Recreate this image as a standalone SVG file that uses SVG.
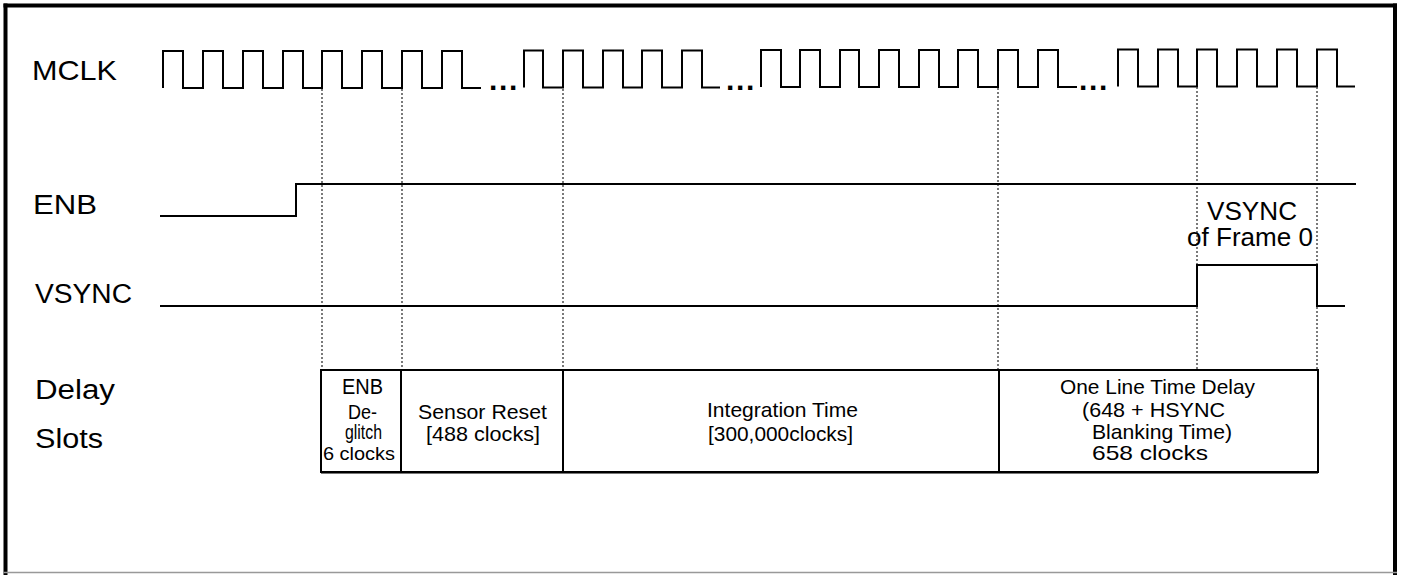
<svg xmlns="http://www.w3.org/2000/svg" width="1402" height="575" viewBox="0 0 1402 575">
<style>
.sig{fill:none;stroke:#000;stroke-width:2;stroke-linejoin:miter}
.lbl{font-family:"Liberation Sans",Arial,sans-serif;fill:#000}
.big{font-size:27px}
.sm{font-size:21px}
.dots{font-family:"Liberation Sans",Arial,sans-serif;font-size:30px;font-weight:bold;letter-spacing:1.7px;fill:#000}
.guide{stroke:#333;stroke-width:1.3;stroke-dasharray:2 2;fill:none}
.box{fill:none;stroke:#000;stroke-width:2}
</style>
<rect x="0" y="0" width="1402" height="575" fill="#fff"/>
<g id="frame">
<line x1="5.5" y1="3.5" x2="5.5" y2="575" stroke="#000" stroke-width="4"/>
<line x1="3.5" y1="5.5" x2="1397" y2="5.5" stroke="#000" stroke-width="4"/>
<line x1="1395" y1="3.5" x2="1395" y2="575" stroke="#000" stroke-width="4"/>
<line x1="3.5" y1="572.5" x2="1397" y2="572.5" stroke="#999" stroke-width="1.5"/>
</g>
<g id="labels">
<text class="lbl" x="32" y="80" font-size="28" textLength="85" lengthAdjust="spacingAndGlyphs">MCLK</text>
<text class="lbl big" x="33" y="214" textLength="64" lengthAdjust="spacingAndGlyphs">ENB</text>
<text class="lbl big" x="35" y="303" textLength="97" lengthAdjust="spacingAndGlyphs">VSYNC</text>
<text class="lbl big" x="35" y="399" textLength="80" lengthAdjust="spacingAndGlyphs">Delay</text>
<text class="lbl big" x="35" y="448" textLength="68" lengthAdjust="spacingAndGlyphs">Slots</text>
</g>
<g id="mclk">
<path class="sig" d="M163,88 V51 H183 V88 H203 V51 H223 V88 H243 V51 H263 V88 H283 V51 H303 V88 H322 V51 H342 V88 H362 V51 H382 V88 H402 V51 H422 V88 H442 V51 H462 V88 H481"/>
<path class="sig" d="M524,87.5 V50.5 H543 V87.5 H563 V50.5 H583 V87.5 H603 V50.5 H623 V87.5 H642 V50.5 H662 V87.5 H682 V50.5 H702 V87.5 H720"/>
<path class="sig" d="M761,87 V50 H781 V87 H800 V50 H820 V87 H840 V50 H859 V87 H879 V50 H899 V87 H919 V50 H939 V87 H958 V50 H978 V87 H998 V50 H1018 V87 H1038 V50 H1058 V87 H1077"/>
<path class="sig" d="M1118,86.5 V49.5 H1138 V86.5 H1158 V49.5 H1178 V86.5 H1197 V49.5 H1217 V86.5 H1237 V49.5 H1257 V86.5 H1277 V49.5 H1297 V86.5 H1317 V49.5 H1337 V86.5 H1355"/>
<text class="dots" x="489" y="90">...</text>
<text class="dots" x="726" y="90">...</text>
<text class="dots" x="1079" y="90">...</text>
</g>
<g id="connectors">
<line class="guide" x1="322" y1="89" x2="322" y2="370"/>
<line class="guide" x1="402" y1="89" x2="402" y2="370"/>
<line class="guide" x1="563" y1="89" x2="563" y2="370"/>
<line class="guide" x1="998" y1="88" x2="998" y2="370"/>
<line class="guide" x1="1197" y1="87" x2="1197" y2="370"/>
<line class="guide" x1="1317" y1="87" x2="1317" y2="370"/>
</g>
<g id="enb">
<path class="sig" d="M160,216 H296 V184 H1356"/>
</g>
<g id="vsync">
<path class="sig" d="M160,306 H1197 V265 H1317 V306 H1345"/>
<text class="lbl" x="1207" y="220" font-size="25" textLength="90" lengthAdjust="spacingAndGlyphs">VSYNC</text>
<text class="lbl" x="1187" y="246" font-size="25" textLength="126" lengthAdjust="spacingAndGlyphs">of Frame 0</text>
</g>
<g id="slot-deglitch">
<rect class="box" x="321" y="370" width="80" height="102"/>
<text class="lbl" x="342" y="394" font-size="22" textLength="41" lengthAdjust="spacingAndGlyphs">ENB</text>
<text class="lbl" x="348" y="419" font-size="19.5" textLength="29" lengthAdjust="spacingAndGlyphs">De-</text>
<text class="lbl" x="345" y="439" font-size="20" textLength="37" lengthAdjust="spacingAndGlyphs">glitch</text>
<text class="lbl" x="323" y="460" font-size="19" textLength="72" lengthAdjust="spacingAndGlyphs">6 clocks</text>
</g>
<g id="slot-reset">
<rect class="box" x="401" y="370" width="162" height="102"/>
<text class="lbl sm" x="418" y="419" textLength="129" lengthAdjust="spacingAndGlyphs">Sensor Reset</text>
<text class="lbl sm" x="426" y="441" textLength="114" lengthAdjust="spacingAndGlyphs">[488 clocks]</text>
</g>
<g id="slot-integration">
<rect class="box" x="563" y="370" width="436" height="102"/>
<text class="lbl sm" x="707" y="417" textLength="151" lengthAdjust="spacingAndGlyphs">Integration Time</text>
<text class="lbl sm" x="708" y="441" textLength="145" lengthAdjust="spacingAndGlyphs">[300,000clocks]</text>
</g>
<g id="slot-linedelay">
<rect class="box" x="999" y="370" width="319" height="102"/>
<text class="lbl sm" x="1060" y="394" textLength="195" lengthAdjust="spacingAndGlyphs">One Line Time Delay</text>
<text class="lbl sm" x="1082" y="417" textLength="143" lengthAdjust="spacingAndGlyphs">(648 + HSYNC</text>
<text class="lbl sm" x="1092" y="439" textLength="140" lengthAdjust="spacingAndGlyphs">Blanking Time)</text>
<text class="lbl sm" x="1092" y="460" textLength="116" lengthAdjust="spacingAndGlyphs">658 clocks</text>
</g>
<line x1="321" y1="473.5" x2="1318" y2="473.5" stroke="#777" stroke-width="1"/>
</svg>
